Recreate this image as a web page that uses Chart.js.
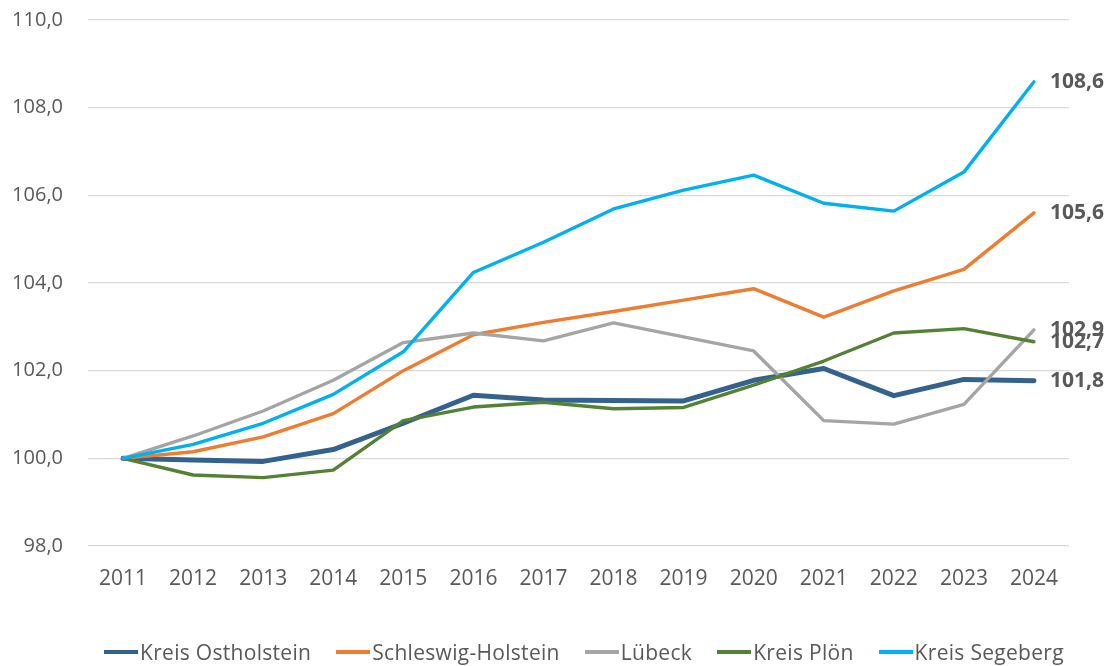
<!DOCTYPE html>
<html>
<head>
<meta charset="utf-8">
<script src="https://cdn.jsdelivr.net/npm/chart.js@4.4.1/dist/chart.umd.min.js"></script>
<style>
    html, body { margin: 0; padding: 0; background: #fff; }
    #wrap { position: relative; width: 1117px; height: 666px; }
    #legend {
        position: absolute; left: 104px; top: 638px;
        display: flex; align-items: center;
        font-family: "Open Sans", sans-serif; font-size: 21px; color: #595959;
        letter-spacing: 0.3px;
    }
    .legend-item { display: flex; align-items: center; margin-right: 25px; white-space: nowrap; }
    .legend-line { width: 34px; height: 4px; margin-right: 2px; }
</style>
</head>
<body>
<div id="wrap">
    <canvas id="chart" width="1117" height="666"></canvas>
    <div id="legend"></div>
</div>
<script>
// data
const years = ["2011", "2012", "2013", "2014", "2015", "2016", "2017", "2018", "2019", "2020", "2021", "2022", "2023", "2024"];

const ostholstein = [100.0, 99.96, 99.93, 100.2, 100.8, 101.44, 101.33, 101.32, 101.31, 101.78, 102.05, 101.43, 101.8, 101.77];
const schleswigHolstein = [100.0, 100.15, 100.49, 101.02, 102.0, 102.82, 103.1, 103.35, 103.61, 103.87, 103.22, 103.82, 104.31, 105.6];
const luebeck = [100.0, 100.51, 101.08, 101.78, 102.64, 102.86, 102.68, 103.09, 102.77, 102.45, 100.86, 100.78, 101.23, 102.93];
const ploen = [100.0, 99.62, 99.56, 99.73, 100.86, 101.17, 101.28, 101.13, 101.16, 101.67, 102.22, 102.86, 102.96, 102.66];
const segeberg = [100.0, 100.32, 100.8, 101.46, 102.43, 104.24, 104.93, 105.69, 106.12, 106.46, 105.82, 105.64, 106.53, 108.59];

const seriesNames = ["Kreis Ostholstein", "Schleswig-Holstein", "Lübeck", "Kreis Plön", "Kreis Segeberg"];
const seriesColors = ["#34628E", "#ED7D31", "#A5A5A5", "#548235", "#00B0F0"];
const seriesWidths = [5, 3.4, 3.4, 3.4, 3.4];
const seriesData = [ostholstein, schleswigHolstein, luebeck, ploen, segeberg];

const yTicksMin = 98;
const yTicksMax = 110;

const TEXT = "#595959";
const FONT = "'Open Sans', sans-serif";

const fmt = v => v.toFixed(1).replace(".", ",");

// end labels
const endLabels = {
    id: "endLabels",
    afterDatasetsDraw(chart) {
        const ctx = chart.ctx;
        ctx.save();
        ctx.font = "bold 21px " + FONT;
        ctx.fillStyle = TEXT;
        ctx.textAlign = "left";
        ctx.textBaseline = "middle";
        chart.data.datasets.forEach((ds, i) => {
            const meta = chart.getDatasetMeta(i);
            const pt = meta.data[meta.data.length - 1];
            ctx.fillText(fmt(ds.data[ds.data.length - 1]), pt.x + 16, pt.y);
        });
        ctx.restore();
    }
};

new Chart(document.getElementById("chart"), {
    type: "line",
    data: {
        labels: years,
        datasets: seriesNames.map((name, i) => ({
            label: name,
            data: seriesData[i],
            borderColor: seriesColors[i],
            backgroundColor: seriesColors[i],
            borderWidth: seriesWidths[i],
            pointRadius: 0,
            tension: 0,
            borderJoinStyle: "round",
            borderCapStyle: "round",
            order: seriesNames.length - i
        }))
    },
    options: {
        responsive: false,
        animation: false,
        layout: { padding: { top: 20, right: 48, bottom: 0, left: 0 } },
        plugins: {
            legend: { display: false },
            tooltip: { enabled: false }
        },
        scales: {
            x: {
                offset: true,
                grid: { display: false },
                border: { display: false },
                ticks: { color: TEXT, font: { family: FONT, size: 21 }, padding: 12, maxRotation: 0 },
                afterFit: s => { s.height = 120; }
            },
            y: {
                min: yTicksMin,
                max: yTicksMax,
                grid: { color: "#D9D9D9", lineWidth: 1.3, drawTicks: false },
                border: { display: false },
                ticks: { stepSize: 2, color: TEXT, font: { family: FONT, size: 20 }, padding: 25, callback: v => fmt(v) },
                afterFit: s => { s.width = 88; s.paddingTop = 0; s.paddingBottom = 0; }
            }
        }
    },
    plugins: [endLabels]
});

// legend
document.getElementById("legend").innerHTML = seriesNames.map((name, i) => `
    <span class="legend-item">
        <span class="legend-line" style="background:${seriesColors[i]}"></span>${name}
    </span>`).join("");
</script>
</body>
</html>
